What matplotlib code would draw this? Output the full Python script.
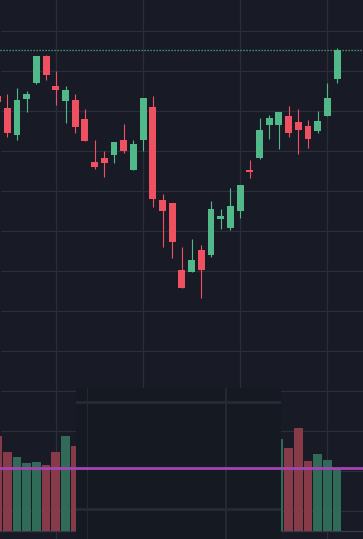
import numpy as np
import matplotlib
matplotlib.use("Agg")
import matplotlib.pyplot as plt

# ---------------- data ----------------
opens  = [153.75, 150.75, 144.0, 153.0, 157.0, 163.75, 156.25, 152.5, 152.75, 148.0,
          137.25, 138.25, 139.0, 142.75, 135.25, 142.75, 151.0, 127.75, 127.0, 110.25,
          109.75, 115.25, 114.0, 123.0, 120.75, 125.0, 135.25, 138.25, 146.5, 146.5,
          148.75, 147.25, 146.25, 145.0, 148.75, 158.0]
highs  = [154.5, 154.25, 155.75, 155.0, 163.75, 164.0, 160.0, 156.25, 154.25, 150.5,
          142.75, 140.0, 142.25, 146.75, 142.75, 153.25, 153.75, 129.25, 127.0, 116.0,
          118.0, 116.5, 127.5, 125.5, 130.75, 131.5, 137.75, 148.25, 149.0, 149.75,
          151.25, 150.5, 147.75, 150.0, 157.0, 165.75]
lows   = [151.5, 143.5, 142.75, 149.75, 156.75, 157.75, 151.5, 147.0, 144.5, 142.5,
          135.5, 133.5, 137.0, 139.5, 135.25, 140.0, 126.0, 116.0, 113.25, 105.75,
          109.75, 103.25, 113.5, 120.5, 120.25, 123.25, 133.25, 138.0, 143.0, 140.5,
          143.5, 139.25, 140.75, 144.5, 148.75, 157.0]
closes = [152.25, 144.6, 152.75, 154.25, 163.75, 159.0, 155.25, 155.25, 146.0, 142.5,
          136.0, 137.0, 142.25, 140.0, 141.75, 153.25, 128.0, 125.0, 117.25, 105.75,
          112.75, 110.25, 125.5, 123.75, 126.25, 131.5, 134.75, 145.25, 148.25, 149.75,
          144.5, 145.25, 143.0, 147.5, 153.25, 165.25]
nan = np.nan
# volume of candles 9..28 is hidden behind the overlay panel
volumes = [94.5, 78.5, 73.5, 67.5, 68.5, 65.5, 78.5, 94.5, 84.5] + [nan] * 20 + \
          [91.5, 82.5, 102.5, 69.5, 76.5, 70.5, 62.5]
volume_level = 63.0
date_ticks = [6, 15, 25, 34]
price_ticks = list(range(50, 171, 10))

# ---------------- style ----------------
BG = "#181b26"
OV_BG = "#151922"
GRID = "#2a2e39"
OV_GRID = "#252933"
GREEN = "#51b889"
RED = "#ef5160"
VGREEN = "#306b58"
VRED = "#873a48"
MAGENTA = "#a444b4"
BASE = "#373b47"

x = np.arange(len(opens))
o = np.array(opens); c = np.array(closes)
h = np.array(highs); l = np.array(lows)
up = c >= o
cols = np.where(up, GREEN, RED)
vcols = np.where(up, VGREEN, VRED)

fig = plt.figure(figsize=(3.63, 5.39), dpi=100, facecolor=BG)

def clean(a):
    for s in a.spines.values():
        s.set_visible(False)
    a.tick_params(left=False, bottom=False, right=False, top=False,
                  labelleft=False, labelbottom=False, labelright=False, labeltop=False)

ax = fig.add_axes([0, 0, 1, 1])
ax.set_facecolor(BG)
ax.set_xlim(0.247, 37.67)
ax.set_ylim(43.0, 177.75)
ax.set_xticks(date_ticks)
ax.set_yticks(price_ticks)
ax.grid(True, color=GRID, lw=0.9)
ax.set_axisbelow(True)
clean(ax)

# last price line
ax.axhline(closes[-1], color=GREEN, lw=0.9, ls=(0, (1, 1.4)), zorder=1)
# candles
ax.vlines(x, l, h, colors=cols, lw=0.8, zorder=2)
body_bottom = np.minimum(o, c)
body_h = np.maximum(np.abs(c - o), 0.4)
ax.bar(x, body_h, bottom=body_bottom, width=0.72, color=cols, linewidth=0, zorder=3)

# volume
ax2 = ax.twinx()
ax2.set_ylim(-8.5, 530.5)
ax2.patch.set_visible(False)
clean(ax2)
ax2.axhline(0, color=BASE, lw=0.9, zorder=1)
ax2.bar(x, volumes, width=0.9, color=vcols, linewidth=0, zorder=2)

# overlay panel
ov = fig.add_axes([76 / 363, 0, 205 / 363, 151 / 539])
ov.set_facecolor(OV_BG)
ov.set_xlim(0, 205)
ov.set_ylim(151, 0)
clean(ov)
ov.axhline(14, color=OV_GRID, lw=2.2)
ov.axhline(121, color=OV_GRID, lw=2.2)
ov.axvline(10.5, color=OV_GRID, lw=0.8)
ov.axvline(149.5, color=OV_GRID, lw=1.4)

# level line on top
ax3 = fig.add_axes([0, 0, 1, 1])
ax3.patch.set_visible(False)
ax3.set_xlim(ax.get_xlim())
ax3.set_ylim(ax2.get_ylim())
clean(ax3)
ax3.axhline(volume_level, xmax=362 / 363, color=MAGENTA, lw=2.0)

ax.set_zorder(0)
ax2.set_zorder(1)
ov.set_zorder(2)
ax3.set_zorder(3)

fig.savefig("out.png", dpi=100, facecolor=BG)
